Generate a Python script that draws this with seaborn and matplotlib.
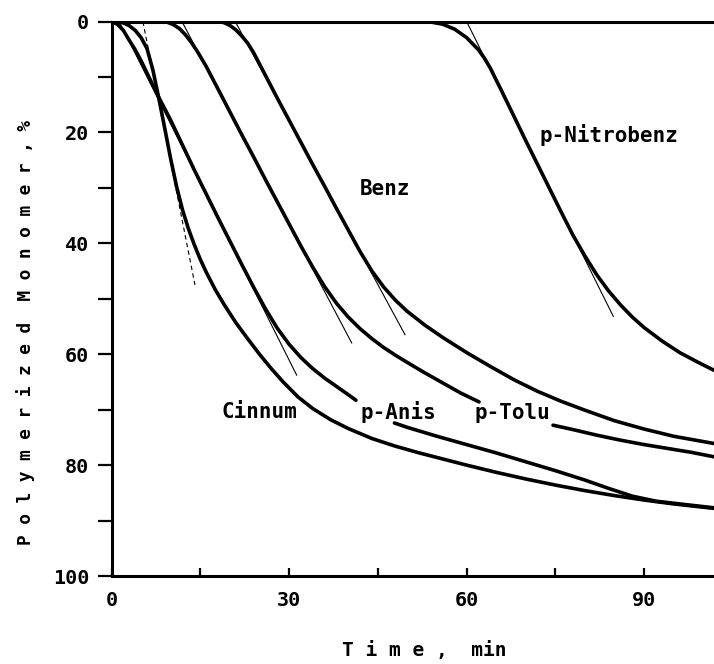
import matplotlib
matplotlib.use("Agg")
import matplotlib.pyplot as plt
import numpy as np
import seaborn as sns

# Time (min) vs. polymerized monomer (%)
cinnum_t = [0, 1, 2, 3, 4, 5, 6, 7, 8, 9, 10, 11, 12, 13, 14, 15, 16, 17.5, 19, 21, 23, 25, 27,
            29, 31.5, 34, 37, 40, 44, 48, 52, 56, 60, 65, 70, 75, 80, 85, 90, 95, 101.8]
cinnum_y = [0, 0.05, 0.25, 0.75, 1.6, 2.9, 4.9, 8.8, 13.9, 19.3, 24.8, 29.8, 34.0, 37.4, 40.3, 42.9,
            45.2, 48.3, 51.0, 54.3, 57.2, 60.0, 62.6, 65.0, 67.7, 69.8, 71.8, 73.4, 75.2, 76.6,
            77.8, 78.9, 80.0, 81.3, 82.5, 83.6, 84.6, 85.5, 86.3, 87.0, 87.8]

anis_t1 = [0, 1, 2, 3, 4, 5, 6, 7, 8, 10, 12, 14, 16, 18, 20, 22, 24, 26, 28, 30, 32, 34, 36, 38,
           40, 41.3]
anis_y1 = [0, 0.5, 1.6, 3.4, 5.1, 7.1, 9.3, 11.5, 13.7, 17.8, 22.3, 26.8, 31.1, 35.4, 39.6, 43.8,
           47.9, 51.8, 55.3, 58.2, 60.6, 62.6, 64.3, 65.8, 67.3, 68.3]
anis_t2 = [47.8, 50, 55, 60, 65, 70, 75, 80, 84, 88, 92, 96, 101.8]
anis_y2 = [72.4, 73.2, 74.8, 76.3, 77.8, 79.4, 81.0, 82.7, 84.2, 85.6, 86.5, 87.0, 87.7]

tolu_t1 = [8.5, 9.5, 10.5, 11.5, 12.5, 13.5, 14.5, 16, 18, 20, 22, 24, 26, 28, 30, 32, 34, 36, 38,
           40, 42, 44, 46, 48, 50, 53, 56, 59, 62.1]
tolu_y1 = [0, 0.15, 0.6, 1.3, 2.4, 3.8, 5.4, 8.1, 12.2, 16.3, 20.4, 24.4, 28.5, 32.5, 36.5, 40.5,
           44.3, 47.8, 50.8, 53.3, 55.4, 57.2, 58.8, 60.2, 61.5, 63.4, 65.2, 67.0, 68.6]
tolu_t2 = [74.6, 78, 82, 86, 90, 94, 98, 101.8]
tolu_y2 = [72.8, 73.6, 74.6, 75.5, 76.3, 77.0, 77.7, 78.5]

benz_t = [18, 19, 20, 21, 22, 23, 24, 26, 28, 30, 32, 34, 36, 38, 40, 42, 44, 46, 48, 50, 53, 56,
          60, 64, 68, 72, 76, 80, 85, 90, 95, 101.8]
benz_y = [0, 0.2, 0.7, 1.5, 2.6, 3.9, 5.6, 9.7, 13.8, 17.8, 21.8, 25.8, 29.7, 33.7, 37.6, 41.5,
          45.0, 47.9, 50.3, 52.3, 54.8, 57.0, 59.7, 62.2, 64.6, 66.7, 68.5, 70.1, 72.0, 73.5,
          74.8, 76.1]

nitro_t = [52, 54, 56, 58, 60, 62, 63, 64, 66, 68, 70, 72, 74, 76, 78, 80, 82, 84, 86, 88, 90, 93,
           96, 99, 101.8]
nitro_y = [0, 0.1, 0.5, 1.4, 2.9, 5.1, 6.6, 8.4, 12.7, 17.1, 21.5, 25.8, 30.1, 34.4, 38.6, 42.3,
           45.7, 48.6, 51.1, 53.3, 55.2, 57.6, 59.7, 61.4, 62.9]

# tangents to the linear part (start / end points)
tan_cinnum_t = [5.3, 14.1]
tan_cinnum_y = [0, 47.5]
tan_anis_t = [1.3, 31.3]
tan_anis_y = [0, 63.8]
tan_tolu_t = [11.9, 40.6]
tan_tolu_y = [0, 58.0]
tan_benz_t = [20.9, 49.6]
tan_benz_y = [0, 56.5]
tan_nitro_t = [60.0, 84.8]
tan_nitro_y = [0, 53.2]

labels = ["Cinnum", "p-Anis", "p-Tolu", "Benz", "p-Nitrobenz"]
label_t = [24.9, 48.4, 67.8, 46.2, 84.0]
label_y = [70.4, 70.5, 70.6, 30.2, 20.5]

sns.set_style("ticks")
plt.rcParams['font.family'] = ['DejaVu Sans Mono', 'DejaVu Sans']
plt.rcParams['font.weight'] = 'bold'
for key in ['text.color', 'axes.labelcolor', 'xtick.color', 'ytick.color', 'axes.edgecolor']:
    plt.rcParams[key] = 'black'

fig = plt.figure(figsize=(7.14, 6.64), dpi=100)
ax = fig.add_axes([0.1562, 0.1325, 0.8438, 0.8351])

thick = dict(color='black', linewidth=2.6, estimator=None, sort=False, legend=False)
for t, y in [(cinnum_t, cinnum_y), (anis_t1, anis_y1), (anis_t2, anis_y2),
             (tolu_t1, tolu_y1), (tolu_t2, tolu_y2), (benz_t, benz_y), (nitro_t, nitro_y)]:
    sns.lineplot(x=t, y=y, ax=ax, **thick)

thin = dict(color='black', linewidth=0.8, estimator=None, sort=False, legend=False)
for t, y in [(tan_anis_t, tan_anis_y), (tan_tolu_t, tan_tolu_y),
             (tan_benz_t, tan_benz_y), (tan_nitro_t, tan_nitro_y)]:
    sns.lineplot(x=t, y=y, ax=ax, **thin)
sns.lineplot(x=tan_cinnum_t, y=tan_cinnum_y, ax=ax, linestyle=(0, (4, 3)), **thin)

for lab, t, y in zip(labels, label_t, label_y):
    ax.text(t, y, lab, fontsize=15, fontweight='bold', ha='center', va='center')

ax.set_xlim(0, 101.8)
ax.set_ylim(100, 0)
ax.set_xticks(np.arange(0, 101, 30))
ax.set_xticks(np.arange(0, 101, 15), minor=True)
ax.set_yticks(np.arange(0, 101, 20))
ax.set_yticks(np.arange(0, 101, 10), minor=True)

ax.tick_params(axis='x', which='both', direction='in', length=6, width=1.6, pad=11, labelsize=14.5)
ax.tick_params(axis='y', which='both', direction='out', length=10, width=1.6, pad=6, labelsize=14.5)
for lab in ax.get_xticklabels() + ax.get_yticklabels():
    lab.set_fontweight('bold')

for s in ['left', 'bottom', 'top']:
    ax.spines[s].set_linewidth(2.2)
ax.spines['right'].set_visible(False)

ax.set_xlabel("T i m e ,  min", fontsize=14, fontweight='bold', va='center')
ax.xaxis.set_label_coords(0.519, -0.135)
ax.set_ylabel("P o l y m e r i z e d  M o n o m e r , %", fontsize=12.8, fontweight='bold',
              va='center')
ax.yaxis.set_label_coords(-0.1436, 0.44)

fig.savefig("out.png", dpi=100)
